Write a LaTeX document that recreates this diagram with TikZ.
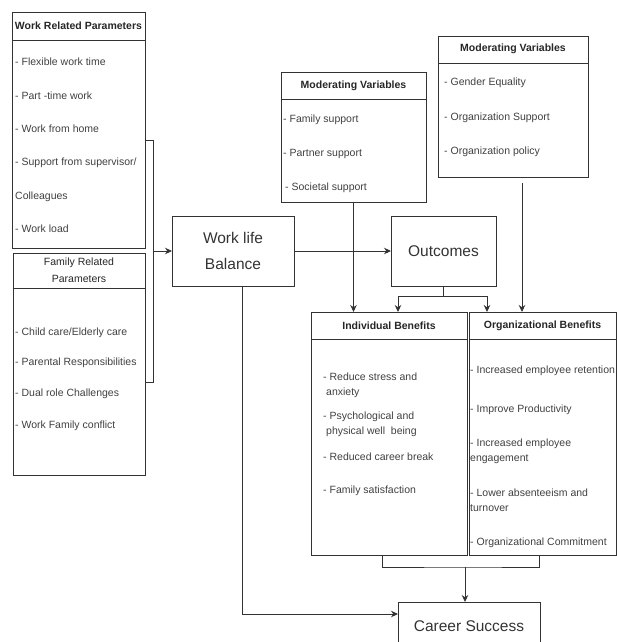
\documentclass[tikz,border=0pt]{standalone}
\usepackage{fontspec}
\setmainfont{Liberation Sans}
\usetikzlibrary{arrows.meta}
\tikzset{
  box/.style  = {rectangle, draw=black!80, line width=0.9pt, inner sep=0, outer sep=0},
  head/.style = {font=\fontsize{10.5}{17}\selectfont\bfseries, text=black!85, align=center, inner sep=0},
  item/.style = {anchor=west, inner sep=0, font=\fontsize{10.5}{15}\selectfont, text=black!75, align=left},
  big/.style  = {font=\fontsize{15.5}{26}\selectfont, text=black!80, align=center},
  link/.style = {draw=black!80, line width=0.9pt},
  arr/.style  = {link, -{Stealth[length=7pt,width=6.5pt]}}
}

\begin{document}
\begin{tikzpicture}[x=1pt,y=-1pt]
  \useasboundingbox (0,0) rectangle (617,642);
  \clip (0,0) rectangle (617,642);

  % boxes
  \node[box, minimum width=133pt, minimum height=236pt] (wrp) at (78.5,130) {};
  \node[box, minimum width=132pt, minimum height=222pt] (frp) at (79,364) {};
  \node[box, big, minimum width=122pt, minimum height=70pt] (wlb) at (233,251) {Work life\\Balance};
  \node[box, minimum width=145pt, minimum height=130pt] (mv1) at (353.5,137) {};
  \node[box, minimum width=150pt, minimum height=141pt] (mv2) at (513,106.5) {};
  \node[box, big, minimum width=105pt, minimum height=70pt] (out) at (443.5,251) {Outcomes};
  \node[box, minimum width=156pt, minimum height=243pt] (ind) at (389,433.5) {};
  \node[box, minimum width=147pt, minimum height=243pt] (org) at (542.5,433.5) {};
  \node[box, big, minimum width=142pt, minimum height=48pt] (cs) at (469,626) {Career Success};

  % header rules
  \draw[link] ([yshift=-28pt]wrp.north west) -- ([yshift=-28pt]wrp.north east);
  \draw[link] ([yshift=-35pt]frp.north west) -- ([yshift=-35pt]frp.north east);
  \draw[link] ([yshift=-27pt]mv1.north west) -- ([yshift=-27pt]mv1.north east);
  \draw[link] ([yshift=-27pt]mv2.north west) -- ([yshift=-27pt]mv2.north east);
  \draw[link] ([yshift=-27.5pt]ind.north west) -- ([yshift=-27.5pt]ind.north east);
  \draw[link] ([yshift=-27.5pt]org.north west) -- ([yshift=-27.5pt]org.north east);

  % headers
  \node[head] (wrpH) at ([yshift=-14pt]wrp.north) {Work Related Parameters};
  \node[head, font=\fontsize{10.5}{17}\selectfont] (frpH) at ([yshift=-17.5pt]frp.north) {Family Related\\Parameters};
  \node[head] (mv1H) at ([yshift=-14pt]mv1.north) {Moderating Variables};
  \node[head] (mv2H) at ([yshift=-13pt]mv2.north) {Moderating Variables};
  \node[head] (indH) at ([yshift=-14pt]ind.north) {Individual Benefits};
  \node[head] (orgH) at ([yshift=-14pt]org.north) {Organizational Benefits};

  % work related
  \node[item] (w1) at (15,61.5) {- Flexible work time};
  \node[item] (w2) at (15,95.5) {- Part -time work};
  \node[item] (w3) at (15,129) {- Work from home};
  \node[item] (w4) at (15,163) {- Support from supervisor/};
  \node[item] (w5) at (15,196.5) {Colleagues};
  \node[item] (w6) at (15,229) {- Work load};

  % family related
  \node[item] (f1) at (15,333) {- Child care/Elderly care};
  \node[item] (f2) at (15,363) {- Parental Responsibilities};
  \node[item] (f3) at (15,394) {- Dual role Challenges};
  \node[item] (f4) at (15,426) {- Work Family conflict};

  % moderating (individual)
  \node[item] (m1) at (283,120) {- Family support};
  \node[item] (m2) at (283,154) {- Partner support};
  \node[item] (m3) at (285,188) {- Societal support};

  % moderating (organization)
  \node[item] (n1) at (444,83) {- Gender Equality};
  \node[item] (n2) at (444,118) {- Organization Support};
  \node[item] (n3) at (444,152) {- Organization policy};

  % individual benefits
  \node[item] (i1) at (323,385.5) {- Reduce stress and\\\hspace{3pt}anxiety};
  \node[item] (i2) at (323,424.5) {- Psychological and\\\hspace{3pt}physical well\ \ being};
  \node[item] (i3) at (323,457) {- Reduced career break};
  \node[item] (i4) at (323,491) {- Family satisfaction};

  % organizational benefits
  \node[item] (o1) at (470,371) {- Increased employee retention};
  \node[item] (o2) at (470,410) {- Improve Productivity};
  \node[item] (o3) at (470,451.5) {- Increased employee\\engagement};
  \node[item] (o4) at (470,500.5) {- Lower absenteeism and\\turnover};
  \node[item] (o5) at (470,543) {- Organizational Commitment};

  % connectors
  \coordinate (b1) at (153,140);
  \coordinate (b2) at (153,382);
  \draw[link] (wrp.east |- b1) -- (b1) -- (b2) -- (frp.east |- b2);
  \draw[arr] (b1 |- wlb.west) -- (wlb.west);
  \draw[arr] (wlb) -- (out);
  \draw[arr] ([xshift=9pt]wlb.south) |- ([yshift=12pt]cs.west);
  \draw[arr] (mv1.south) -- (mv1.south |- ind.north);
  \draw[arr, shorten <=6pt] ([xshift=9pt]mv2.south) -- ([xshift=9pt]mv2.south |- org.north);
  \coordinate (split) at (443.5,296);
  \draw[link] (out.south) -- (split);
  \draw[arr] (split) -| ([xshift=9pt]ind.north);
  \draw[arr] (split) -| ([xshift=-55.5pt]org.north);
  \coordinate (join) at (465,567);
  \draw[link] ([xshift=-7pt]ind.south) |- (join) -| ([xshift=-3.5pt]org.south);
  \draw[arr] (join) -- (join |- cs.north);
\end{tikzpicture}
\end{document}
